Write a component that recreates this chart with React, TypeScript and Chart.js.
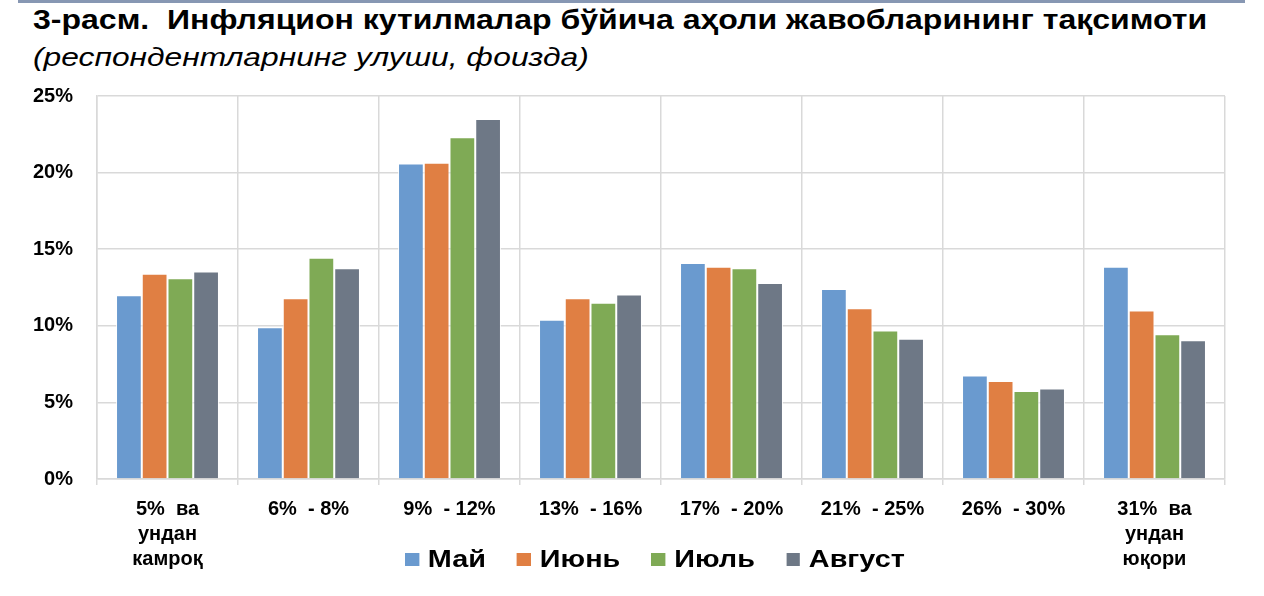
import React, { useRef, useEffect } from 'react';
import { Chart, registerables } from 'chart.js';

Chart.register(...registerables);

const categories: string[][] = [
  ['5%  ва', 'ундан', 'камроқ'],
  ['6%  - 8%'],
  ['9%  - 12%'],
  ['13%  - 16%'],
  ['17%  - 20%'],
  ['21%  - 25%'],
  ['26%  - 30%'],
  ['31%  ва', 'ундан', 'юқори'],
];

const seriesNames = ['Май', 'Июнь', 'Июль', 'Август'];
const seriesColors = ['#6A9ACF', '#E07F43', '#7FAA55', '#6E7886'];

const may = [12.0, 9.9, 20.6, 10.4, 14.1, 12.4, 6.75, 13.85];
const june = [13.4, 11.8, 20.65, 11.8, 13.85, 11.15, 6.4, 11.0];
const july = [13.1, 14.45, 22.3, 11.5, 13.75, 9.7, 5.75, 9.45];
const august = [13.55, 13.75, 23.5, 12.05, 12.8, 9.15, 5.9, 9.05];

const yTicks = [0, 5, 10, 15, 20, 25];

const FONT = '"Liberation Sans", Arial, sans-serif';

const App: React.FC = () => {
  const canvasRef = useRef<HTMLCanvasElement>(null);
  const chartRef = useRef<Chart | null>(null);

  useEffect(() => {
    document.body.style.margin = '0';
    if (!canvasRef.current) return;
    const ctx = canvasRef.current.getContext('2d');
    if (!ctx) return;

    if (chartRef.current) {
      chartRef.current.destroy();
    }

    const values = [may, june, july, august];

    chartRef.current = new Chart(ctx, {
      type: 'bar',
      data: {
        labels: categories,
        datasets: seriesNames.map((name, i) => ({
          label: name,
          data: values[i],
          backgroundColor: seriesColors[i],
          borderColor: 'rgba(255,255,255,0.85)',
          borderWidth: 1,
          categoryPercentage: 0.73,
          barPercentage: 1.0,
        })),
      },
      options: {
        responsive: false,
        animation: false,
        layout: { padding: { top: 96, right: 39, left: 0, bottom: 0 } },
        plugins: {
          legend: { display: false },
          tooltip: { enabled: false },
        },
        scales: {
          x: {
            grid: {
              color: '#D9D9D9',
              lineWidth: 1.5,
              tickLength: 6,
              offset: true,
            },
            border: { color: '#D9D9D9', width: 1.5 },
            ticks: {
              color: '#000',
              font: { family: FONT, size: 20, weight: 'bold', lineHeight: 1.25 },
              padding: 12,
              maxRotation: 0,
              autoSkip: false,
            },
            afterFit: (scale: any) => {
              scale.height = 117;
            },
          },
          y: {
            min: 0,
            max: 25,
            afterBuildTicks: (scale: any) => {
              scale.ticks = yTicks.map((v) => ({ value: v }));
            },
            grid: { color: '#D9D9D9', lineWidth: 1.5, drawTicks: false },
            border: { color: '#D9D9D9', width: 1.5 },
            ticks: {
              color: '#000',
              font: { family: FONT, size: 20, weight: 'bold' },
              padding: 24,
              callback: (v: any) => v + '%',
            },
            afterFit: (scale: any) => {
              scale.width = 97;
            },
          },
        },
      },
    });

    return () => {
      if (chartRef.current) {
        chartRef.current.destroy();
        chartRef.current = null;
      }
    };
  }, []);

  return (
    <div style={{ position: 'relative', width: 1264, height: 596, background: '#fff', fontFamily: FONT }}>
      <div style={{ position: 'absolute', left: 18, top: 0, width: 1227, height: 3, background: '#8797B3' }} />
      <div
        style={{
          position: 'absolute',
          left: 33,
          top: 7,
          fontSize: 27,
          lineHeight: '27px',
          fontWeight: 'bold',
          color: '#000',
          whiteSpace: 'pre',
          transform: 'scaleX(1.186)',
          transformOrigin: 'left top',
        }}
      >
        {'3-расм.  Инфляцион кутилмалар бўйича аҳоли жавобларининг тақсимоти'}
      </div>
      <div
        style={{
          position: 'absolute',
          left: 33,
          top: 45,
          fontSize: 25,
          lineHeight: '25px',
          fontStyle: 'italic',
          color: '#000',
          whiteSpace: 'pre',
          transform: 'scaleX(1.27)',
          transformOrigin: 'left top',
        }}
      >
        (респондентларнинг улуши, фоизда)
      </div>
      <canvas ref={canvasRef} width={1264} height={596} style={{ position: 'absolute', left: 0, top: 0 }} />
      <div
        style={{
          position: 'absolute',
          left: 405,
          top: 547,
          display: 'flex',
          alignItems: 'center',
          gap: 26,
          fontSize: 24,
          lineHeight: '24px',
          fontWeight: 'bold',
          color: '#000',
          transform: 'scaleX(1.2)',
          transformOrigin: 'left top',
        }}
      >
        {seriesNames.map((name, i) => (
          <div key={name} style={{ display: 'flex', alignItems: 'center' }}>
            <span style={{ display: 'inline-block', width: 11.5, height: 13, background: seriesColors[i], marginRight: 7.5 }} />
            <span>{name}</span>
          </div>
        ))}
      </div>
    </div>
  );
};

export default App;
